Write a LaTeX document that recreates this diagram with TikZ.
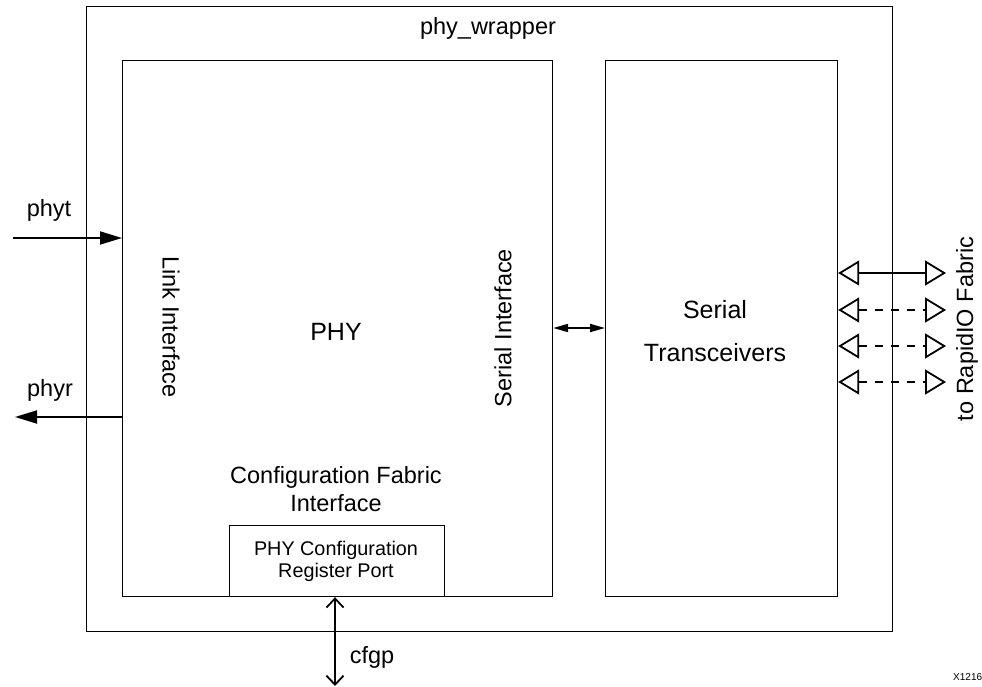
\documentclass[tikz,border=0pt]{standalone}
\usepackage{fontspec}
\setmainfont{Liberation Sans}
\usetikzlibrary{arrows.meta}
\begin{document}
\begin{tikzpicture}[x=1pt,y=-1pt,
  box/.style={draw, line width=1.2pt, inner sep=0pt, anchor=north west},
  lbl/.style={font=\fontsize{23.5}{28}\selectfont, align=center, inner sep=0pt},
  biglbl/.style={font=\fontsize{25}{43}\selectfont, align=center, inner sep=0pt},
  reglbl/.style={font=\fontsize{19.8}{22}\selectfont, align=center, inner sep=0pt},
  sig/.style={line width=1.8pt},
  fattip/.style={-{Triangle[length=22pt,width=13pt]}},
  smalltips/.style={{Triangle[length=15pt,width=8pt]}-{Triangle[length=15pt,width=8pt]}},
  opentips/.style={{Triangle[open,length=21pt,width=25pt,fill=white]}-{Triangle[open,length=21pt,width=25pt,fill=white]}},
  barbtips/.style={{Straight Barb[length=9pt,width=17pt]}-{Straight Barb[length=9pt,width=17pt]}},
  dashline/.style={dash pattern=on 8pt off 8pt}
]
\useasboundingbox (0,0) rectangle (982,687);

% boxes
\node[box, minimum width=806pt, minimum height=625pt] (wrap) at (86,6) {};
\node[box, minimum width=430pt, minimum height=536pt] (phy) at (122,60) {};
\node[box, minimum width=232pt, minimum height=536pt] (xcvr) at (605,60) {};
\node[box, minimum width=215pt, minimum height=71pt, fill=white] (reg) at (229,525) {};

% labels
\node[lbl] (wraplbl) at (488,28) {phy\_wrapper};
\node[biglbl] (phylbl) at (336,332) {PHY};
\node[biglbl] (xcvrlbl) at (715,331) {Serial\\Transceivers};
\node[lbl, rotate=-90] (linklbl) at (171,327) {Link Interface};
\node[lbl, rotate=90] (serlbl) at (503,328) {Serial Interface};
\node[lbl] (cfglbl) at (336,489) {Configuration Fabric\\Interface};
\node[reglbl] (reglbl) at (336,561) {PHY Configuration\\Register Port};
\node[lbl, rotate=90] (riolbl) at (967,329) {to RapidIO Fabric};
\node[lbl] (phytlbl) at (49,210) {phyt};
\node[lbl] (phyrlbl) at (50,390) {phyr};
\node[lbl] (cfgplbl) at (372,657) {cfgp};
\node[font=\fontsize{10}{11}\selectfont, anchor=west, inner sep=0pt] (xid) at (953,677) {X1216};

% connector end points
\coordinate (phytS) at (13,238);
\coordinate (phyrE) at (15,417);
\coordinate (cfgpE) at (335,686);
\coordinate (rio1) at (946,273);
\coordinate (rio2) at (946,310);
\coordinate (rio3) at (946,346);
\coordinate (rio4) at (946,382);

% connectors
\draw[sig, fattip] (phytS) -- (phytS -| phy.west);
\draw[sig, fattip] (phyrE -| phy.west) -- (phyrE);
\draw[sig, smalltips] (phy.east |- 0,328) -- (xcvr.west |- 0,328);
\draw[sig, opentips] (rio1 -| xcvr.east) -- (rio1);
\draw[sig, opentips, dashline] (rio2 -| xcvr.east) -- (rio2);
\draw[sig, opentips, dashline] (rio3 -| xcvr.east) -- (rio3);
\draw[sig, opentips, dashline] (rio4 -| xcvr.east) -- (rio4);
\draw[sig, barbtips] (reg.south -| cfgpE) -- (cfgpE);
\end{tikzpicture}
\end{document}
